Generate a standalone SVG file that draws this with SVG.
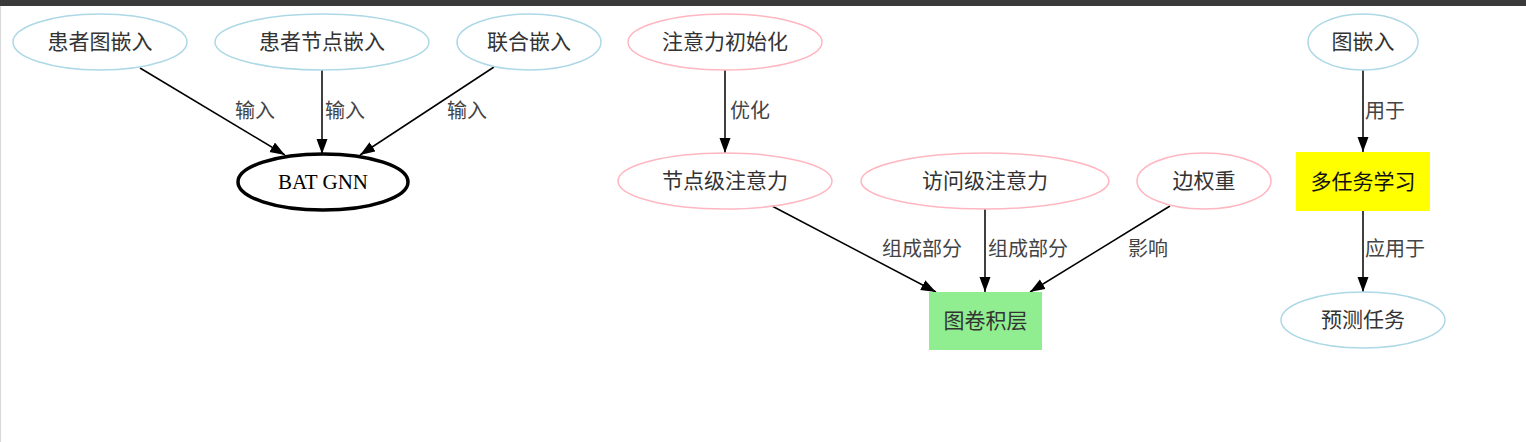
<svg xmlns="http://www.w3.org/2000/svg" width="1526" height="442" viewBox="0 0 1526 442">
<style>
.t{font-family:"Liberation Serif","Noto Sans CJK SC",serif;font-size:21px;fill:#333;text-anchor:middle;dominant-baseline:central}
.lb{font-family:"Liberation Serif","Noto Sans CJK SC",serif;font-size:20px;fill:#444;text-anchor:middle;dominant-baseline:central}
.blue{fill:none;stroke:#add8e6;stroke-width:1.5}
.pink{fill:none;stroke:#ffb6c1;stroke-width:1.5}
.e{stroke:#000;stroke-width:1.5;fill:none;marker-end:url(#arr)}
</style>
<defs>
<marker id="arr" markerUnits="userSpaceOnUse" markerWidth="16" markerHeight="12" refX="15" refY="5.5" orient="auto">
<path d="M0,0 L15,5.5 L0,11 z" fill="#000"/>
</marker>
</defs>
<rect x="0" y="0" width="1526" height="442" fill="#fff"/>
<rect x="0" y="0" width="1526" height="6" fill="#3a3a3a"/>
<line x1="0.5" y1="6" x2="0.5" y2="442" stroke="#d8d8d8" stroke-width="1"/>

<g id="connectors">
<path class="e" d="M140,68 L285,155"/>
<path class="e" d="M322,70 L322,154"/>
<path class="e" d="M494,67 L360,155"/>
<path class="e" d="M725,70 L725,153"/>
<path class="e" d="M772,206 L936,292"/>
<path class="e" d="M985,209 L985,292"/>
<path class="e" d="M1170,206 L1030,292"/>
<path class="e" d="M1363,70 L1363,152"/>
<path class="e" d="M1363,211 L1363,292"/>
<text class="lb" x="255" y="111">输入</text>
<text class="lb" x="345" y="111">输入</text>
<text class="lb" x="467" y="111">输入</text>
<text class="lb" x="750" y="111">优化</text>
<text class="lb" x="922" y="249">组成部分</text>
<text class="lb" x="1028" y="249">组成部分</text>
<text class="lb" x="1148" y="249">影响</text>
<text class="lb" x="1385" y="111">用于</text>
<text class="lb" x="1395" y="249">应用于</text>
</g>

<g id="n1"><ellipse class="blue" cx="100" cy="42" rx="87" ry="28"/><text class="t" x="100" y="42">患者图嵌入</text></g>
<g id="n2"><ellipse class="blue" cx="322" cy="42" rx="107" ry="28"/><text class="t" x="322" y="42">患者节点嵌入</text></g>
<g id="n3"><ellipse class="blue" cx="529" cy="42" rx="72" ry="28"/><text class="t" x="529" y="42">联合嵌入</text></g>
<g id="n4"><ellipse cx="323" cy="182" rx="85" ry="28" fill="none" stroke="#000" stroke-width="3.5"/><text class="t" x="323" y="182" style="fill:#000">BAT GNN</text></g>
<g id="n5"><ellipse class="pink" cx="725" cy="42" rx="97" ry="28"/><text class="t" x="725" y="42">注意力初始化</text></g>
<g id="n6"><ellipse class="pink" cx="725" cy="181" rx="107" ry="28"/><text class="t" x="725" y="181">节点级注意力</text></g>
<g id="n7"><ellipse class="pink" cx="985" cy="181" rx="124" ry="28"/><text class="t" x="985" y="181">访问级注意力</text></g>
<g id="n8"><ellipse class="pink" cx="1204" cy="181" rx="67" ry="28"/><text class="t" x="1204" y="181">边权重</text></g>
<g id="n9"><rect x="929" y="292" width="113" height="58" fill="#90ee90"/><text class="t" x="985.5" y="321">图卷积层</text></g>
<g id="n10"><ellipse class="blue" cx="1363" cy="42" rx="55" ry="28"/><text class="t" x="1363" y="42">图嵌入</text></g>
<g id="n11"><rect x="1296" y="152" width="134" height="59" fill="#ffff00"/><text class="t" x="1363" y="181.5" style="fill:#111">多任务学习</text></g>
<g id="n12"><ellipse class="blue" cx="1363" cy="320" rx="82" ry="28"/><text class="t" x="1363" y="320">预测任务</text></g>
</svg>
